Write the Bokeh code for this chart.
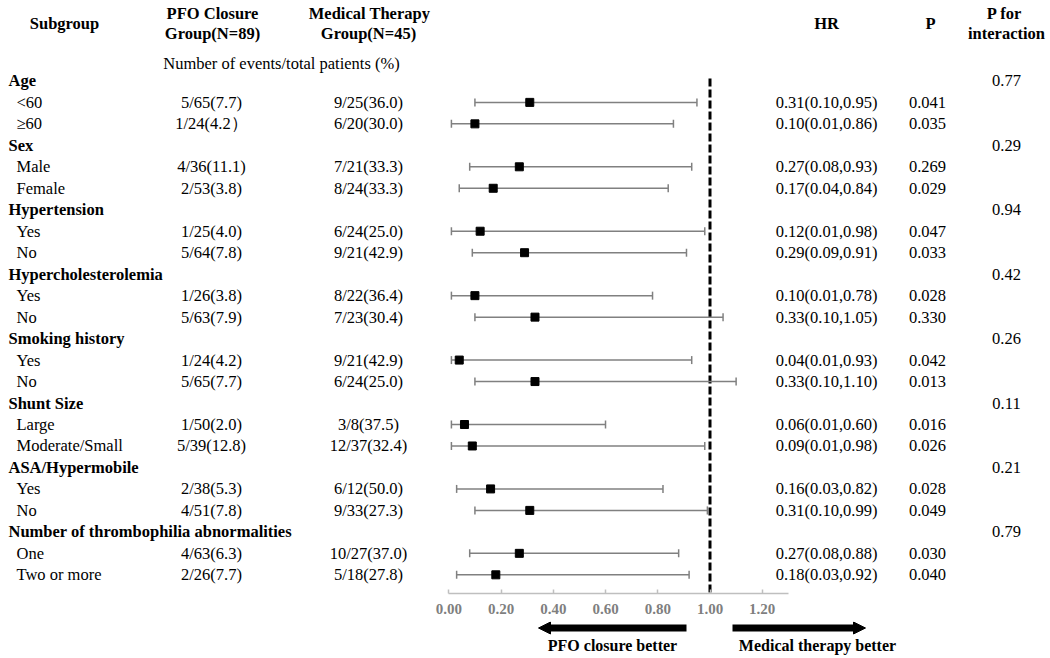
from bokeh.plotting import figure
from bokeh.models import Range1d, FixedTicker, NumeralTickFormatter, Arrow, NormalHead, ColumnDataSource
from bokeh.layouts import column
from bokeh.core.properties import value
from bokeh.embed import file_html
from bokeh.resources import INLINE
import numpy as np

# ---------------- data ----------------
groups = ["Age", "Sex", "Hypertension", "Hypercholesterolemia", "Smoking history",
          "Shunt Size", "ASA/Hypermobile", "Number of thrombophilia abnormalities"]
p_interaction = ["0.77", "0.29", "0.94", "0.42", "0.26", "0.11", "0.21", "0.79"]
levels = [["<60", "≥60"], ["Male", "Female"], ["Yes", "No"], ["Yes", "No"], ["Yes", "No"],
          ["Large", "Moderate/Small"], ["Yes", "No"], ["One", "Two or more"]]
pfo_events = ["5/65(7.7)", "1/24(4.2）", "4/36(11.1)", "2/53(3.8)", "1/25(4.0)", "5/64(7.8)",
              "1/26(3.8)", "5/63(7.9)", "1/24(4.2)", "5/65(7.7)", "1/50(2.0)", "5/39(12.8)",
              "2/38(5.3)", "4/51(7.8)", "4/63(6.3)", "2/26(7.7)"]
mt_events = ["9/25(36.0)", "6/20(30.0)", "7/21(33.3)", "8/24(33.3)", "6/24(25.0)", "9/21(42.9)",
             "8/22(36.4)", "7/23(30.4)", "9/21(42.9)", "6/24(25.0)", "3/8(37.5)", "12/37(32.4)",
             "6/12(50.0)", "9/33(27.3)", "10/27(37.0)", "5/18(27.8)"]
hr = [0.31, 0.10, 0.27, 0.17, 0.12, 0.29, 0.10, 0.33, 0.04, 0.33, 0.06, 0.09, 0.16, 0.31, 0.27, 0.18]
hr_lo = [0.10, 0.01, 0.08, 0.04, 0.01, 0.09, 0.01, 0.10, 0.01, 0.10, 0.01, 0.01, 0.03, 0.10, 0.08, 0.03]
hr_hi = [0.95, 0.86, 0.93, 0.84, 0.98, 0.91, 0.78, 1.05, 0.93, 1.10, 0.60, 0.98, 0.82, 0.99, 0.88, 0.92]
p_values = ["0.041", "0.035", "0.269", "0.029", "0.047", "0.033", "0.028", "0.330",
            "0.042", "0.013", "0.016", "0.026", "0.028", "0.049", "0.030", "0.040"]
axis_ticks = [0.0, 0.2, 0.4, 0.6, 0.8, 1.0, 1.2]

# ---------------- layout helpers (image pixel -> data) ----------------
X0, SX = 448.3, 261.2     # pixel of HR=0, pixels per HR unit
Y0, SY = 80.4, 21.475     # pixel of first row, pixels per row
W, H = 1050, 658

def dx(px):
    return (px - X0) / SX

def dy(py):
    return (py - Y0) / SY

FONT = value("Liberation Serif")
FS = "16.5px"

header_rows = [3 * i for i in range(len(groups))]
item_rows = [3 * i + k for i in range(len(groups)) for k in (1, 2)]
item_labels = [lv for grp in levels for lv in grp]
hr_text = [f"{h:.2f}({l:.2f},{u:.2f})" for h, l, u in zip(hr, hr_lo, hr_hi)]

FRAME_BOTTOM = 593
AX_H = 28
p = figure(width=W, height=FRAME_BOTTOM + AX_H, output_backend="svg", toolbar_location=None,
           x_range=Range1d(dx(0), dx(W)), y_range=Range1d(dy(FRAME_BOTTOM), dy(0)),
           min_border_left=0, min_border_right=0, min_border_top=0, min_border_bottom=AX_H)
p.outline_line_color = None
p.grid.visible = False
p.yaxis.visible = False
p.background_fill_color = "white"
p.border_fill_color = "white"

ax = p.xaxis[0]
ax.bounds = (0, 1.3)
ax.ticker = FixedTicker(ticks=axis_ticks, minor_ticks=[])
ax.formatter = NumeralTickFormatter(format="0.00")
ax.axis_line_color = "#bfbfbf"
ax.axis_line_width = 1.5
ax.major_tick_line_color = "#bfbfbf"
ax.major_tick_line_width = 1.5
ax.major_tick_in = 4
ax.major_tick_out = 0
ax.minor_tick_in = 0
ax.minor_tick_out = 0
ax.major_label_standoff = 10
ax.major_label_text_font = "Liberation Serif"
ax.major_label_text_font_style = "bold"
ax.major_label_text_font_size = "15px"
ax.major_label_text_color = "#7f7f7f"

# reference line at HR = 1
p.segment(x0=[1.0], y0=[dy(78)], x1=[1.0], y1=[dy(FRAME_BOTTOM + 10)],
          line_color="black", line_width=3, line_dash="8 3")

# CIs
src = ColumnDataSource(dict(y=item_rows, hr=hr, lo=hr_lo, hi=hr_hi))
p.segment(x0="lo", y0="y", x1="hi", y1="y", source=src, line_color="#808080", line_width=1.5)
p.scatter(x="lo", y="y", source=src, marker="dash", angle=np.pi / 2, size=8,
          line_color="#808080", line_width=1.5)
p.scatter(x="hi", y="y", source=src, marker="dash", angle=np.pi / 2, size=8,
          line_color="#808080", line_width=1.5)
p.scatter(x="hr", y="y", source=src, marker="square", size=8, fill_color="black", line_color="black")

def txt(fig, xs, ys, texts, align="center", bold=False, size=FS, color="black"):
    fig.text(x=xs, y=ys, text=texts, text_font=FONT, text_font_size=size,
             text_font_style="bold" if bold else "normal", text_align=align,
             text_baseline="middle", text_color=color)

# column headers
hdr_x = [64, 212, 212, 369, 368, 826, 930, 1004, 1006]
hdr_y = [23, 13, 33, 13, 33, 23, 23, 13, 33]
hdr_t = ["Subgroup", "PFO Closure", "Group(N=89)", "Medical Therapy", "Group(N=45)",
         "HR", "P", "P for", "interaction"]
txt(p, [dx(v) for v in hdr_x], [dy(v) for v in hdr_y], hdr_t, bold=True)
txt(p, [dx(281)], [dy(63)], ["Number of events/total patients (%)"])

# group headers and items
txt(p, [dx(8)] * len(groups), header_rows, groups, align="left", bold=True)
txt(p, [dx(1006)] * len(groups), header_rows, p_interaction)
txt(p, [dx(16)] * len(item_labels), item_rows, item_labels, align="left")
txt(p, [dx(211)] * len(item_rows), item_rows, pfo_events)
txt(p, [dx(368)] * len(item_rows), item_rows, mt_events)
txt(p, [dx(826)] * len(item_rows), item_rows, hr_text)
txt(p, [dx(927)] * len(item_rows), item_rows, p_values)

# bottom strip: direction arrows
top2 = FRAME_BOTTOM + AX_H
p2 = figure(width=W, height=H - top2, output_backend="svg", toolbar_location=None,
            x_range=p.x_range, y_range=Range1d(H, top2),
            min_border_left=0, min_border_right=0, min_border_top=0, min_border_bottom=0)
p2.outline_line_color = None
p2.grid.visible = False
p2.axis.visible = False
p2.add_layout(Arrow(end=NormalHead(size=12, fill_color="black", line_color="black"),
                    x_start=dx(686), y_start=627.5, x_end=dx(538), y_end=627.5,
                    line_width=7, line_color="black"))
p2.add_layout(Arrow(end=NormalHead(size=12, fill_color="black", line_color="black"),
                    x_start=dx(732), y_start=627.5, x_end=dx(865), y_end=627.5,
                    line_width=7, line_color="black"))
txt(p2, [dx(612), dx(817)], [645, 645], ["PFO closure better", "Medical therapy better"],
    bold=True, size="16px")

layout = column(p, p2, spacing=0)
open("out.html", "w").write(file_html(layout, INLINE))
